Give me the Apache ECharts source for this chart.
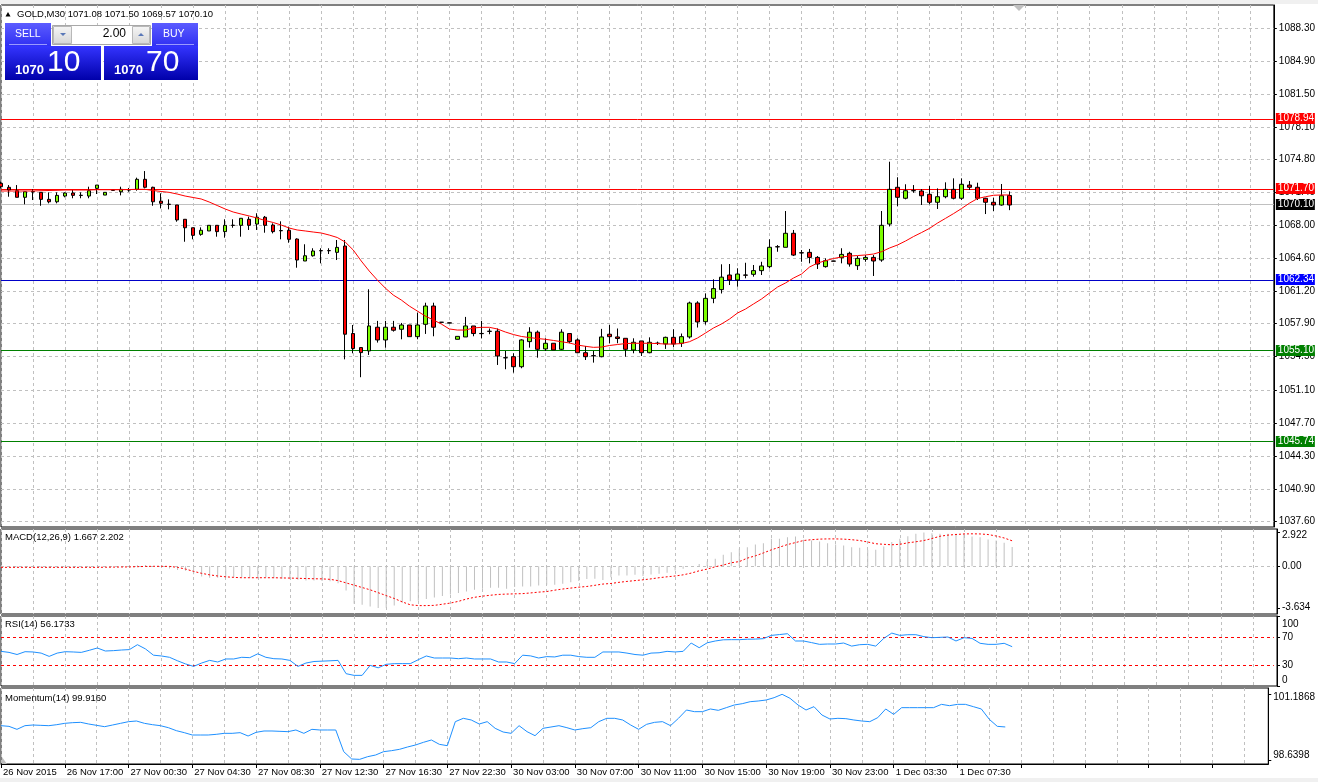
<!DOCTYPE html>
<html><head><meta charset="utf-8">
<script src="https://cdn.jsdelivr.net/npm/echarts@6/dist/echarts.min.js"></script>
<style>html,body{margin:0;padding:0;background:#fff;overflow:hidden}#c{width:1318px;height:782px}</style>
</head><body><div id="c"></div>
<script>
// ---------------- DATA ----------------
const timeLabels = ['26 Nov 2015','26 Nov 17:00','27 Nov 00:30','27 Nov 04:30','27 Nov 08:30','27 Nov 12:30','27 Nov 16:30','27 Nov 22:30','30 Nov 03:00','30 Nov 07:00','30 Nov 11:00','30 Nov 15:00','30 Nov 19:00','30 Nov 23:00','1 Dec 03:30','1 Dec 07:30'];
const priceTicks = [1088.30,1084.90,1081.50,1078.10,1074.80,1071.40,1068.00,1064.60,1061.20,1057.90,1054.50,1051.10,1047.70,1044.30,1040.90,1037.60];
const opens = [
1072.33,1071.92,1071.57,1070.89,1071.48,1071.40,1070.68,1070.43,1071.02,1071.33,
1071.10,1071.02,1071.81,1071.12,1071.62,1071.46,1071.64,1071.71,1072.74,1071.92,
1070.50,1070.18,1070.10,1068.63,1067.76,1067.08,1067.43,1068.01,1067.36,1068.02,
1068.01,1068.63,1068.14,1068.84,1068.04,1067.47,1067.50,1066.60,1064.34,1064.88,
1065.41,1065.41,1065.23,1065.88,1056.88,1055.44,1055.09,1057.53,1056.22,1057.53,
1057.32,1057.76,1056.56,1057.83,1059.71,1058.05,1057.98,1056.29,1056.53,1057.66,
1056.89,1057.12,1057.12,1054.40,1054.50,1053.47,1056.05,1057.02,1055.30,1055.88,
1055.26,1056.88,1056.22,1054.91,1054.61,1054.50,1056.81,1056.53,1056.39,1055.19,
1056.12,1054.91,1055.89,1055.81,1056.49,1055.88,1056.53,1060.02,1058.10,1060.50,
1061.40,1062.90,1062.39,1062.90,1062.97,1063.35,1063.76,1065.81,1065.75,1067.19,
1065.19,1065.23,1064.71,1063.76,1064.34,1064.68,1065.13,1063.86,1064.51,1064.71,
1064.44,1068.14,1071.92,1070.79,1071.58,1071.54,1071.20,1070.38,1070.95,1071.71,
1070.79,1072.15,1071.92,1070.79,1070.38,1070.10,1071.08];
const highs = [
1072.50,1072.15,1072.15,1071.46,1071.71,1071.40,1071.40,1071.40,1071.40,1071.64,
1071.40,1071.98,1072.15,1071.40,1071.62,1071.98,1071.85,1072.91,1073.59,1071.98,
1071.30,1070.68,1070.10,1068.63,1067.76,1067.80,1068.01,1068.01,1068.63,1068.63,
1068.73,1068.90,1069.25,1068.97,1068.21,1068.42,1067.87,1066.67,1066.06,1065.65,
1065.65,1065.65,1066.50,1066.50,1057.76,1055.45,1061.43,1058.18,1058.18,1058.18,
1057.97,1057.76,1059.02,1060.05,1060.05,1058.07,1058.00,1056.59,1058.59,1057.66,
1058.18,1057.40,1057.40,1055.09,1054.85,1056.29,1057.53,1057.19,1056.39,1055.88,
1057.32,1056.88,1056.39,1055.60,1055.09,1057.36,1057.76,1057.40,1056.39,1056.39,
1056.12,1056.49,1056.05,1056.56,1057.32,1056.88,1060.16,1060.20,1061.00,1062.46,
1064.00,1064.03,1063.59,1064.16,1063.93,1064.26,1066.57,1065.98,1069.48,1067.53,
1065.47,1065.58,1064.85,1064.61,1064.36,1065.65,1065.29,1064.85,1064.95,1064.95,
1069.48,1074.55,1072.95,1072.23,1072.15,1071.74,1072.05,1071.81,1072.43,1072.84,
1072.84,1072.57,1072.39,1070.84,1070.84,1072.26,1071.50];
const lows = [
1071.81,1070.95,1070.89,1070.17,1070.61,1070.02,1070.27,1070.27,1070.89,1070.79,
1070.79,1070.79,1071.23,1071.12,1071.60,1071.09,1071.46,1071.57,1071.81,1070.02,
1069.75,1069.65,1068.38,1066.32,1066.57,1066.94,1067.43,1066.84,1066.74,1067.76,
1066.84,1067.53,1067.53,1067.25,1067.18,1066.57,1066.22,1063.65,1064.34,1064.79,
1064.10,1065.06,1064.44,1054.23,1054.85,1052.39,1054.68,1055.95,1055.43,1057.08,
1056.29,1056.56,1056.29,1056.84,1056.60,1058.02,1057.95,1056.29,1056.53,1056.60,
1056.38,1056.81,1053.65,1053.21,1052.86,1053.31,1055.43,1054.40,1055.09,1055.19,
1055.19,1055.88,1054.91,1054.16,1053.89,1054.44,1055.88,1055.88,1054.50,1054.85,
1054.57,1054.85,1055.70,1055.30,1055.50,1055.50,1056.36,1057.50,1057.80,1060.00,
1061.00,1061.87,1061.70,1062.56,1062.73,1062.90,1063.59,1065.29,1065.75,1064.85,
1064.26,1064.10,1063.52,1063.66,1064.30,1064.10,1063.76,1063.42,1064.26,1062.80,
1064.26,1067.89,1069.96,1070.68,1071.36,1070.10,1070.17,1069.69,1070.79,1070.68,
1070.61,1071.64,1070.61,1069.17,1069.48,1070.03,1069.57];
const closes = [
1071.98,1071.64,1070.89,1071.46,1071.44,1070.68,1070.43,1071.09,1071.33,1071.09,
1071.08,1071.57,1072.15,1071.40,1071.60,1071.71,1071.65,1072.74,1071.92,1070.43,
1070.27,1070.16,1068.56,1067.76,1066.98,1067.50,1068.01,1067.36,1068.01,1068.00,
1068.73,1068.01,1068.84,1068.01,1067.36,1067.45,1066.57,1064.44,1064.88,1065.37,
1065.39,1065.40,1065.74,1056.81,1055.34,1054.92,1057.66,1056.22,1057.53,1057.22,
1057.76,1056.56,1057.76,1059.71,1057.53,1058.03,1057.96,1056.59,1057.66,1056.88,
1056.87,1057.10,1054.57,1054.38,1053.47,1056.22,1057.02,1055.26,1055.88,1055.19,
1057.02,1056.05,1054.91,1054.50,1054.59,1056.53,1056.56,1056.37,1055.26,1055.98,
1054.91,1055.98,1055.87,1056.49,1055.81,1056.56,1060.02,1058.07,1060.50,1061.50,
1062.68,1062.39,1063.00,1062.88,1063.35,1063.83,1065.75,1065.79,1067.19,1064.95,
1065.17,1064.71,1064.03,1064.37,1064.32,1065.02,1064.03,1064.61,1064.71,1064.34,
1068.01,1071.71,1070.89,1071.57,1071.56,1071.05,1070.38,1070.95,1071.71,1070.79,
1072.23,1071.92,1070.79,1070.38,1070.10,1071.05,1070.10];
const maValues = [
1071.54,1071.54,1071.54,1071.54,1071.54,1071.57,1071.59,1071.61,1071.64,1071.64,
1071.64,1071.64,1071.67,1071.67,1071.67,1071.67,1071.69,1071.71,1071.71,1071.59,
1071.49,1071.40,1071.23,1071.02,1070.87,1070.72,1070.41,1070.05,1069.69,1069.38,
1069.17,1068.97,1068.76,1068.50,1068.30,1068.04,1067.73,1067.53,1067.43,1067.32,
1067.22,1067.01,1066.76,1066.29,1065.47,1064.34,1063.31,1062.39,1061.56,1060.84,
1060.33,1059.71,1059.20,1058.68,1058.28,1057.86,1057.35,1057.24,1057.24,1057.45,
1057.52,1057.52,1057.35,1057.04,1056.78,1056.58,1056.47,1056.37,1056.29,1056.17,
1056.04,1055.91,1055.70,1055.57,1055.46,1055.49,1055.65,1055.75,1055.85,1055.88,
1055.88,1055.88,1055.85,1055.80,1055.80,1055.85,1056.04,1056.42,1056.93,1057.45,
1057.86,1058.37,1058.99,1059.40,1059.92,1060.43,1061.05,1061.66,1062.08,1062.59,
1063.00,1063.72,1064.13,1064.37,1064.60,1064.75,1064.85,1064.90,1064.96,1065.06,
1065.30,1065.68,1065.99,1066.40,1066.86,1067.27,1067.70,1068.25,1068.73,1069.22,
1069.74,1070.30,1070.77,1070.95,1071.10,1071.13,1071.13];
const macdMain = [
-0.08,-0.08,-0.10,-0.10,-0.10,-0.12,-0.14,-0.13,-0.12,-0.11,
-0.10,-0.07,-0.02,-0.02,-0.01,0.00,0.01,0.08,0.10,0.00,
-0.10,-0.20,-0.33,-0.40,-0.70,-0.90,-1.00,-1.01,-0.98,-0.95,
-0.95,-1.00,-0.95,-0.95,-1.05,-1.09,-1.13,-1.18,-1.24,-1.24,
-1.28,-1.30,-1.47,-2.10,-3.26,-3.35,-3.49,-3.634,-3.61,-3.41,
-3.15,-3.05,-3.00,-2.85,-2.72,-2.58,-2.45,-2.32,-2.20,-2.05,
-1.95,-1.88,-1.87,-1.96,-1.81,-1.76,-1.76,-1.67,-1.61,-1.61,
-1.53,-1.40,-1.28,-1.12,-1.09,-1.20,-0.95,-0.80,-0.80,-0.75,
-0.85,-0.72,-0.66,-0.57,-0.37,-0.22,0.00,0.20,0.40,0.65,
0.99,1.22,1.51,1.65,1.89,2.00,2.38,2.38,2.52,2.58,
2.29,2.23,2.15,2.00,1.89,1.80,1.65,1.60,1.42,1.42,
1.71,2.09,2.38,2.61,2.81,2.922,2.87,2.81,2.81,2.81,
2.81,2.58,2.52,2.32,2.23,2.03,1.667];
const macdSignal = [
-0.10,-0.10,-0.10,-0.10,-0.10,-0.10,-0.10,-0.10,-0.10,-0.10,
-0.10,-0.10,-0.10,-0.09,-0.08,-0.07,-0.06,-0.04,-0.02,-0.01,
-0.01,-0.02,-0.10,-0.25,-0.45,-0.62,-0.75,-0.85,-0.92,-0.97,
-1.00,-1.00,-1.00,-1.00,-1.00,-1.02,-1.03,-1.05,-1.07,-1.09,
-1.10,-1.14,-1.25,-1.45,-1.65,-1.85,-2.05,-2.30,-2.55,-2.80,
-3.10,-3.35,-3.42,-3.42,-3.40,-3.30,-3.20,-3.05,-2.85,-2.70,
-2.60,-2.52,-2.45,-2.42,-2.40,-2.38,-2.32,-2.25,-2.20,-2.08,
-1.98,-1.90,-1.82,-1.76,-1.66,-1.55,-1.50,-1.40,-1.32,-1.25,
-1.18,-1.10,-1.00,-0.92,-0.85,-0.75,-0.60,-0.40,-0.25,-0.05,
0.10,0.30,0.40,0.70,0.90,1.15,1.42,1.65,1.88,2.05,
2.23,2.30,2.35,2.37,2.37,2.35,2.30,2.23,2.10,1.95,
1.90,1.86,1.90,2.03,2.12,2.23,2.40,2.60,2.70,2.75,
2.80,2.81,2.80,2.75,2.62,2.45,2.202];
const rsiValues = [
49.5,48,45,49,48.6,47,42.3,47,49,48.6,
48,51,54.3,50,50.5,51.4,52,59,53,44,
42.9,41,36,31.5,28,32.8,36.6,34.3,38.6,38.6,
41,40.5,46,41,39,38.6,36.6,28,32.8,35,
35.5,36,36.6,17.6,15.2,15.2,29.5,26,31,31.9,
32,31.9,37.6,42.9,40,40,40,39,40,38.6,
38.6,38.6,34.3,34.3,32,44,43,40,42,41.5,
44,44,42,41,41,48.6,48.6,48.6,47,45,
44,47,47.5,49.5,48.6,49.5,61.4,54.7,61.7,64.3,
66,66.2,66.2,66.8,67,67.6,72.3,73.5,74.7,64.3,
64.3,62,59.5,60,60,61.4,57,59,59.5,57,
68,75.6,72.3,73.3,73.3,70.5,69,69.5,70,64.3,
69,68,61,59.5,59.5,61,56.1733];
const momValues = [
99.966,99.940,99.824,99.966,99.992,99.979,99.966,100.005,100.057,100.083,
100.096,100.031,99.979,99.927,99.992,100.057,100.122,100.148,100.057,100.005,
99.966,99.888,99.772,99.694,99.603,99.603,99.603,99.629,99.668,99.668,
99.694,99.564,99.707,99.759,99.759,99.746,99.733,99.798,99.668,99.824,
99.798,99.798,99.798,98.955,98.669,98.656,98.760,98.825,98.955,98.994,
99.046,99.136,99.214,99.318,99.409,99.240,99.188,100.122,100.252,100.187,
100.031,100.122,99.863,99.720,99.668,99.966,99.733,99.577,99.863,99.914,
99.966,99.888,99.798,99.850,99.888,100.122,100.252,100.252,100.187,99.992,
99.824,100.018,100.096,100.122,99.966,100.252,100.576,100.511,100.511,100.615,
100.563,100.667,100.771,100.822,100.900,100.926,100.965,101.056,101.1868,101.030,
100.771,100.576,100.706,100.381,100.226,100.252,100.239,100.187,100.148,100.122,
100.278,100.615,100.407,100.667,100.667,100.667,100.667,100.667,100.796,100.744,
100.796,100.796,100.706,100.615,100.213,99.940,99.916];
const priceLevels = [1078.94, 1071.70, 1070.10, 1062.34, 1055.10, 1045.74];
const rsiLevels = [70, 30];
const macdTicks = [2.922, 0, -3.634];
const rsiTicks = [100, 70, 30, 0];
const momTicks = [101.1868, 98.6398];
const bidPrice = 1070.10, askPrice = 1070.70, lotSize = 2.00;

// ---------------- STYLE ----------------
const FONT = 'Liberation Sans';
const levelLineColors = ['#ff0000','#ff0000','#c0c0c0','#0000c8','#008000','#008000'];
const levelBoxColors  = ['#ff0000','#ff0000','#000000','#0000ff','#008000','#008000'];
const GRIDC = '#c0c0c0';
const N = 160;
const cats = Array.from({length: N}, (_, i) => String(i));
const labelAt = i => (i % 8 === 0 && timeLabels[i / 8]) ? timeLabels[i / 8] : '';
const candleData = opens.map((o, i) => [o, closes[i], lows[i], highs[i]]);

const grids = [
  {left: 1, right: 41, top: 5,   height: 522},
  {left: 1, right: 41, top: 529, height: 85},
  {left: 1, right: 41, top: 616, height: 70},
  {left: 1, right: 41, top: 688, height: 76}
].map(g => Object.assign(g, {show: true, borderColor: '#000', borderWidth: 1, backgroundColor: '#fff'}));

const xAxes = [0,1,2,3].map(gi => ({
  type: 'category', gridIndex: gi, data: cats, boundaryGap: false,
  axisLine: {show: gi === 3, lineStyle: {color: '#000'}},
  axisTick: {show: gi === 3, interval: 7, length: 4, lineStyle: {color: '#000'}},
  axisLabel: {show: gi === 3, interval: 7, formatter: (v, idx) => labelAt(idx), align: 'left',
              margin: 3, padding: [0,0,0,2], fontSize: 9.5, fontFamily: FONT, color: '#000'},
  splitLine: {show: true, interval: 3, lineStyle: {color: GRIDC, type: [3,3], width: 1}}
}));

const baseLbl = {fontSize: 10, fontFamily: FONT, color: '#000', margin: 5};
const yAxes = [
  {type: 'value', gridIndex: 0, position: 'right', min: 1036.986, max: 1090.666,
   axisLine: {show: true, lineStyle: {color: '#000'}},
   axisTick: {show: true, length: 3, customValues: priceTicks, lineStyle: {color: '#000'}},
   axisLabel: Object.assign({customValues: priceTicks, formatter: v => v.toFixed(2)}, baseLbl),
   splitLine: {show: true, lineStyle: {color: GRIDC, type: [3,3]}}},
  {type: 'value', gridIndex: 1, position: 'right', min: -4.149, max: 3.229,
   axisLine: {show: true, lineStyle: {color: '#000'}},
   axisTick: {show: true, length: 3, customValues: macdTicks, lineStyle: {color: '#000'}},
   axisLabel: Object.assign({customValues: macdTicks,
     formatter: v => v === 0 ? '0.00' : (v > 0 ? '{t|' + v.toFixed(3) + '}' : '{b|' + v.toFixed(3) + '}'),
     rich: {t: {padding: [5,0,0,0], fontSize: 10, fontFamily: FONT}, b: {padding: [0,0,2,0], fontSize: 10, fontFamily: FONT}}}, baseLbl),
   splitLine: {show: false}},
  {type: 'value', gridIndex: 2, position: 'right', min: 0, max: 100,
   axisLine: {show: true, lineStyle: {color: '#000'}},
   axisTick: {show: true, length: 3, customValues: rsiTicks, lineStyle: {color: '#000'}},
   axisLabel: Object.assign({customValues: rsiTicks,
     formatter: v => v === 100 ? '{t|100}' : (v === 0 ? '{b|0}' : String(v)),
     rich: {t: {padding: [16,0,0,0], fontSize: 10, fontFamily: FONT}, b: {padding: [0,0,12,0], fontSize: 10, fontFamily: FONT}}}, baseLbl),
   splitLine: {show: false}},
  {type: 'value', gridIndex: 3, position: 'right', min: 98.475, max: 101.432,
   axisLine: {show: true, lineStyle: {color: '#000'}},
   axisTick: {show: true, length: 3, customValues: momTicks, lineStyle: {color: '#000'}},
   axisLabel: Object.assign({customValues: momTicks,
     formatter: v => v > 100 ? '{t|' + v.toFixed(4) + '}' : '{b|' + v.toFixed(4) + '}',
     rich: {t: {padding: [5,0,0,0], fontSize: 10, fontFamily: FONT}, b: {padding: [0,0,9,0], fontSize: 10, fontFamily: FONT}}}, baseLbl),
   splitLine: {show: false}}
];

const series = [
  {type: 'candlestick', xAxisIndex: 0, yAxisIndex: 0, data: candleData, barWidth: 4, z: 3,
   itemStyle: {color: '#7cfc00', color0: '#ff0000', borderColor: '#000', borderColor0: '#000', borderWidth: 1}},
  {type: 'line', xAxisIndex: 0, yAxisIndex: 0, data: maValues, symbol: 'none', z: 4,
   lineStyle: {color: '#ff0000', width: 1}},
  {type: 'bar', xAxisIndex: 1, yAxisIndex: 1, data: macdMain, barWidth: 1, itemStyle: {color: '#c0c0c0'}},
  {type: 'line', xAxisIndex: 1, yAxisIndex: 1, data: macdSignal, symbol: 'none', z: 4,
   lineStyle: {color: '#ff0000', width: 1, type: [2,2]}},
  {type: 'line', xAxisIndex: 2, yAxisIndex: 2, data: rsiValues, symbol: 'none', z: 4,
   lineStyle: {color: '#1e90ff', width: 1}},
  {type: 'line', xAxisIndex: 3, yAxisIndex: 3, data: momValues, symbol: 'none',
   lineStyle: {color: '#1e90ff', width: 1}}
];

const chart = echarts.init(document.getElementById('c'), null, {renderer: 'canvas'});
chart.setOption({
  animation: false, backgroundColor: '#fff',
  grid: grids, xAxis: xAxes, yAxis: yAxes, series: series
});

// ---------- overlays positioned through the chart's own scales ----------
const n = opens.length - 1;
const grad = (a, b) => new echarts.graphic.LinearGradient(0, 0, 0, 1, [{offset: 0, color: a}, {offset: 1, color: b}]);
const f = (s, w) => (w || '') + ' ' + s + 'px "' + FONT + '"';
const bidTxt = bidPrice.toFixed(2), askTxt = askPrice.toFixed(2);
const xL = chart.convertToPixel({xAxisIndex: 0}, 0);
const xR = chart.convertToPixel({xAxisIndex: 0}, N - 1);
const crisp = y => Math.round(y) + 0.5;
const hLine = (yAxisIndex, v, color, dash, z) => {
  const y = crisp(chart.convertToPixel({yAxisIndex: yAxisIndex}, v) - 0.5);
  return {type: 'line', z: z || 5, silent: true, shape: {x1: xL, y1: y, x2: xR, y2: y},
          style: {stroke: color, lineWidth: 1, lineDash: dash || null}};
};
const graphic = [];
priceLevels.forEach((v, i) => {
  graphic.push(hLine(0, v, levelLineColors[i], null, 2));
  const y = Math.round(chart.convertToPixel({yAxisIndex: 0}, v));
  graphic.push({type: 'rect', z: 20, silent: true, shape: {x: xR + 2, y: y - 6, width: 39, height: 11}, style: {fill: levelBoxColors[i]}});
  graphic.push({type: 'text', z: 21, silent: true, style: {x: xR + 4, y: y - 0.5, text: v.toFixed(2), fill: '#fff', font: f(10), verticalAlign: 'middle'}});
});
rsiLevels.forEach(v => graphic.push(hLine(2, v, '#ff0000', [3, 3], 3)));
graphic.push(hLine(1, 0, GRIDC, [3, 3], 1));

graphic.push(
  {type: 'rect', shape: {x: 0, y: 0, width: 1318, height: 4}, style: {fill: '#f0f0f0'}, z: 10},
  {type: 'rect', shape: {x: 0, y: 778, width: 1318, height: 4}, style: {fill: '#f0f0f0'}, z: 10},
  {type: 'polygon', shape: {points: [[1013,5],[1025,5],[1019,11]]}, style: {fill: '#c0c0c0'}, z: 10},
  {type: 'polygon', shape: {points: [[2,764],[2,757],[7,764]]}, style: {fill: '#c0c0c0'}, z: 10},
  {type: 'polygon', shape: {points: [[5.5,16.5],[10.5,16.5],[8,12]]}, style: {fill: '#000'}, z: 10},
  {type: 'text', z: 10, style: {x: 17, y: 14, text: 'GOLD,M30 ' + [opens[n], highs[n], lows[n], closes[n]].map(v => v.toFixed(2)).join(' '),
    fill: '#000', font: f(9.5), verticalAlign: 'middle'}},
  {type: 'rect', z: 10, shape: {x: 5, y: 23, width: 46, height: 24}, style: {fill: grad('#5c5cff', '#2e2ef2')}},
  {type: 'rect', z: 10, shape: {x: 152, y: 23, width: 46, height: 24}, style: {fill: grad('#5c5cff', '#2e2ef2')}},
  {type: 'rect', z: 10, shape: {x: 5, y: 46, width: 96, height: 34}, style: {fill: grad('#3434ff', '#0000aa')}},
  {type: 'rect', z: 10, shape: {x: 104, y: 46, width: 94, height: 34}, style: {fill: grad('#3434ff', '#0000aa')}},
  {type: 'line', z: 11, shape: {x1: 9, y1: 44.5, x2: 47, y2: 44.5}, style: {stroke: '#9a9aff', lineWidth: 1}},
  {type: 'line', z: 11, shape: {x1: 156, y1: 44.5, x2: 194, y2: 44.5}, style: {stroke: '#9a9aff', lineWidth: 1}},
  {type: 'text', z: 11, style: {x: 15, y: 34, text: 'SELL', fill: '#fff', font: f(10.5), verticalAlign: 'middle'}},
  {type: 'text', z: 11, style: {x: 163, y: 34, text: 'BUY', fill: '#fff', font: f(10.5), verticalAlign: 'middle'}},
  {type: 'rect', z: 10, shape: {x: 52.5, y: 25.5, width: 98, height: 19}, style: {fill: '#fff', stroke: '#a8a8a8', lineWidth: 1}},
  {type: 'rect', z: 11, shape: {x: 53.5, y: 26.5, width: 18, height: 17}, style: {fill: grad('#f6f6f6', '#d6d6d6'), stroke: '#b8b8b8', lineWidth: 1}},
  {type: 'rect', z: 11, shape: {x: 132.5, y: 26.5, width: 17, height: 17}, style: {fill: grad('#f6f6f6', '#d6d6d6'), stroke: '#b8b8b8', lineWidth: 1}},
  {type: 'polygon', z: 12, shape: {points: [[60,33],[66,33],[63,36]]}, style: {fill: '#5a78b8'}},
  {type: 'polygon', z: 12, shape: {points: [[138,36],[144,36],[141,33]]}, style: {fill: '#5a78b8'}},
  {type: 'text', z: 11, style: {x: 126, y: 34, text: lotSize.toFixed(2), fill: '#000', font: f(12), align: 'right', verticalAlign: 'middle'}},
  {type: 'text', z: 11, style: {x: 15, y: 70, text: bidTxt.slice(0, 4), fill: '#fff', font: f(13, 'bold'), verticalAlign: 'middle'}},
  {type: 'text', z: 11, style: {x: 47, y: 63, text: bidTxt.slice(5, 7), fill: '#fff', font: f(30), verticalAlign: 'middle'}},
  {type: 'text', z: 11, style: {x: 114, y: 70, text: askTxt.slice(0, 4), fill: '#fff', font: f(13, 'bold'), verticalAlign: 'middle'}},
  {type: 'text', z: 11, style: {x: 146, y: 63, text: askTxt.slice(5, 7), fill: '#fff', font: f(30), verticalAlign: 'middle'}},
  {type: 'text', z: 10, style: {x: 5, y: 537, text: 'MACD(12,26,9) ' + macdMain[n].toFixed(3) + ' ' + macdSignal[n].toFixed(3), fill: '#000', font: f(9.5), verticalAlign: 'middle'}},
  {type: 'text', z: 10, style: {x: 5, y: 624, text: 'RSI(14) ' + rsiValues[n].toFixed(4), fill: '#000', font: f(9.5), verticalAlign: 'middle'}},
  {type: 'text', z: 10, style: {x: 5, y: 698, text: 'Momentum(14) ' + momValues[n].toFixed(4), fill: '#000', font: f(9.5), verticalAlign: 'middle'}}
);
chart.setOption({graphic: graphic});
</script></body></html>
